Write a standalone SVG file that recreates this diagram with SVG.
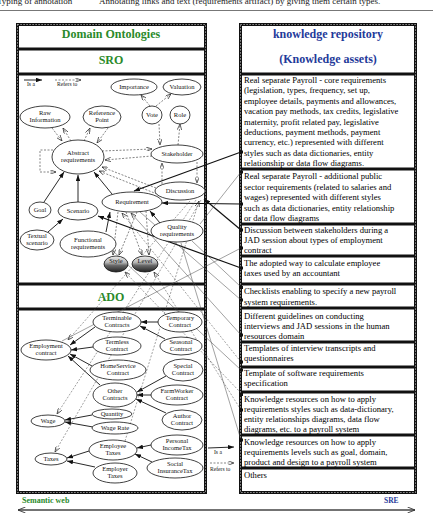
<svg xmlns="http://www.w3.org/2000/svg" width="433" height="515" viewBox="0 0 433 515">
<style>
.bd{fill:none;stroke:#111;stroke-width:3}
.bdt{fill:none;stroke:#fff;stroke-width:0.7;stroke-dasharray:1.2 1.8}
.hg{font-family:"Liberation Serif",serif;font-weight:bold;font-size:12px;fill:#2a8a2a;text-anchor:middle}
.hb{font-family:"Liberation Serif",serif;font-weight:bold;font-size:12px;fill:#1f3a9a;text-anchor:middle}
.rt{font-family:"Liberation Serif",serif;font-size:8.6px;fill:#000}
.nt{font-family:"Liberation Serif",serif;font-size:6.5px;fill:#111;text-anchor:middle}
.lg{font-family:"Liberation Serif",serif;font-size:5.6px;fill:#111}
.n{fill:#fff;stroke:#111;stroke-width:0.8}
.sh{fill:url(#shade);stroke:#111;stroke-width:0.8}
.is{fill:none;stroke:#111;stroke-width:0.9;marker-end:url(#af)}
.isk{fill:none;stroke:#111;stroke-width:1.2;marker-end:url(#af)}
.rf{fill:none;stroke:#333;stroke-width:0.6;stroke-dasharray:2 1.5;marker-end:url(#ao)}
.th{fill:none;stroke:#444;stroke-width:0.5}
.thd{fill:none;stroke:#444;stroke-width:0.5;stroke-dasharray:2 1.5}
.sq{fill:#111}
.top{font-family:"Liberation Serif",serif;font-size:9px;fill:#222}
</style>
<defs>
<linearGradient id="shade" x1="0" y1="0" x2="0" y2="1">
<stop offset="0" stop-color="#ececec"/>
<stop offset="0.4" stop-color="#b8b8b8"/>
<stop offset="0.6" stop-color="#666"/>
<stop offset="1" stop-color="#222"/>
</linearGradient>
<marker id="af" viewBox="0 0 8 6" refX="8" refY="3" markerWidth="6" markerHeight="4.5" markerUnits="userSpaceOnUse" orient="auto">
<path d="M0,0 L8,3 L0,6 z" fill="#111"/>
</marker>
<marker id="ao" viewBox="0 0 8 6" refX="8" refY="3" markerWidth="6" markerHeight="4.5" markerUnits="userSpaceOnUse" orient="auto">
<path d="M0,0 L8,3 L0,6" fill="none" stroke="#222" stroke-width="0.9"/>
</marker>
<marker id="bl" viewBox="0 0 10 8" refX="0" refY="4" markerWidth="8" markerHeight="6" markerUnits="userSpaceOnUse" orient="auto">
<path d="M10,0 L0,4 L10,8" fill="none" stroke="#333" stroke-width="1.2"/>
</marker>
<marker id="br" viewBox="0 0 10 8" refX="10" refY="4" markerWidth="8" markerHeight="6" markerUnits="userSpaceOnUse" orient="auto">
<path d="M0,0 L10,4 L0,8" fill="none" stroke="#333" stroke-width="1.2"/>
</marker>
</defs>
<rect width="433" height="515" fill="#fff"/>

<!-- top caption (cut off) -->
<text class="top" x="-3" y="3.5">Typing of annotation</text>
<text class="top" x="99" y="3.5">Annotating links and text (requirements artifact) by giving them certain types.</text>
<line x1="0" y1="10.5" x2="433" y2="10.5" stroke="#777" stroke-width="1"/>

<!-- panels -->
<g id="left-panel">
<rect class="bd" x="17.5" y="24.5" width="188" height="468"/>
<line class="bd" x1="17.5" y1="49" x2="205.5" y2="49"/>
<line class="bd" x1="17.5" y1="74" x2="205.5" y2="74"/>
<line class="bd" x1="17.5" y1="284" x2="205.5" y2="284"/>
<line class="bd" x1="17.5" y1="309" x2="205.5" y2="309"/>
<rect class="bdt" x="17.5" y="24.5" width="188" height="468"/>
<text class="hg" x="111" y="38">Domain Ontologies</text>
<text class="hg" x="111" y="64">SRO</text>
<text class="hg" x="111" y="301">ADO</text>
</g>
<g id="right-panel">
<rect class="bd" x="240.5" y="24.5" width="175" height="468"/>
<line class="bd" x1="240.5" y1="74" x2="415.5" y2="74"/>
<line class="bd" x1="240.5" y1="169" x2="415.5" y2="169"/>
<line class="bd" x1="240.5" y1="224" x2="415.5" y2="224"/>
<line class="bd" x1="240.5" y1="256" x2="415.5" y2="256"/>
<line class="bd" x1="240.5" y1="284" x2="415.5" y2="284"/>
<line class="bd" x1="240.5" y1="308" x2="415.5" y2="308"/>
<line class="bd" x1="240.5" y1="342" x2="415.5" y2="342"/>
<line class="bd" x1="240.5" y1="367" x2="415.5" y2="367"/>
<line class="bd" x1="240.5" y1="392" x2="415.5" y2="392"/>
<line class="bd" x1="240.5" y1="435" x2="415.5" y2="435"/>
<line class="bd" x1="240.5" y1="468" x2="415.5" y2="468"/>
<rect class="bdt" x="240.5" y="24.5" width="175" height="468"/>
<text class="hb" x="328" y="38">knowledge repository</text>
<text class="hb" x="328" y="63">(Knowledge assets)</text>
</g>

<g id="assets">
<text class="rt" x="244" y="83">Real separate Payroll - core requirements</text>
<text class="rt" x="244" y="93.4">(legislation, types, frequency, set up,</text>
<text class="rt" x="244" y="103.8">employee details, payments and allowances,</text>
<text class="rt" x="244" y="114.2">vacation pay methods, tax credits, legislative</text>
<text class="rt" x="244" y="124.6">maternity, profit related pay, legislative</text>
<text class="rt" x="244" y="135">deductions, payment methods, payment</text>
<text class="rt" x="244" y="145.4">currency, etc.) represented with different</text>
<text class="rt" x="244" y="155.8">styles such as data dictionaries, entity</text>
<text class="rt" x="244" y="166">relationship or data flow diagrams.</text>
<text class="rt" x="244" y="179">Real separate  Payroll - additional public</text>
<text class="rt" x="244" y="189.5">sector requirements (related to salaries and</text>
<text class="rt" x="244" y="200">wages) represented with different styles</text>
<text class="rt" x="244" y="210.5">such as data dictionaries, entity relationship</text>
<text class="rt" x="244" y="221">or data flow diagrams</text>
<text class="rt" x="244" y="233">Discussion between stakeholders during a</text>
<text class="rt" x="244" y="243">JAD session about types of employment</text>
<text class="rt" x="244" y="253">contract</text>
<text class="rt" x="244" y="266">The adopted way to calculate employee</text>
<text class="rt" x="244" y="276">taxes used by an accountant</text>
<text class="rt" x="244" y="294">Checklists enabling to specify a new payroll</text>
<text class="rt" x="244" y="304.5">system requirements.</text>
<text class="rt" x="244" y="319">Different guidelines on conducting</text>
<text class="rt" x="244" y="329">interviews and JAD sessions  in the human</text>
<text class="rt" x="244" y="339">resources domain</text>
<text class="rt" x="244" y="351">Templates of interview transcripts and</text>
<text class="rt" x="244" y="361">questionnaires</text>
<text class="rt" x="244" y="376">Template of software requirements</text>
<text class="rt" x="244" y="386">specification</text>
<text class="rt" x="244" y="402">Knowledge resources on how to apply</text>
<text class="rt" x="244" y="412">requirements styles such as data-dictionary,</text>
<text class="rt" x="244" y="422">entity relationships diagrams, data flow</text>
<text class="rt" x="244" y="432">diagrams, etc. to a payroll system</text>
<text class="rt" x="244" y="445">Knowledge resources on how to apply</text>
<text class="rt" x="244" y="455">requirements levels such as goal, domain,</text>
<text class="rt" x="244" y="465">product and design to a payroll system</text>
<text class="rt" x="244" y="478">Others</text>
</g>

<!-- connectors -->
<g id="connectors">
<line class="is" x1="24" y1="80" x2="42" y2="80"/>
<line class="rf" x1="55" y1="80" x2="81" y2="80"/>
<line class="is" x1="208" y1="448" x2="234" y2="447"/>
<line class="rf" x1="210" y1="463" x2="234" y2="463"/>
<line class="rf" x1="150" y1="106" x2="141" y2="95"/>
<line class="rf" x1="156" y1="106" x2="171" y2="94"/>
<line class="rf" x1="52" y1="128" x2="62" y2="141"/>
<line class="rf" x1="71" y1="141" x2="63" y2="128"/>
<line class="rf" x1="84" y1="141" x2="90" y2="128"/>
<line class="rf" x1="108" y1="128" x2="97" y2="143"/>
<line class="rf" x1="159" y1="124" x2="160" y2="145"/>
<line class="rf" x1="178" y1="145" x2="180" y2="124"/>
<line class="rf" x1="152" y1="156" x2="105" y2="160"/>
<line class="rf" x1="102" y1="151" x2="152" y2="149"/>
<polyline class="rf" points="53,150 40,150 40,172 56,172"/>
<line class="rf" x1="197" y1="162" x2="197" y2="183"/>
<line class="rf" x1="162" y1="184" x2="162" y2="163"/>
<line class="rf" x1="156" y1="188" x2="102" y2="167"/>
<line class="rf" x1="157" y1="194" x2="99" y2="171"/>
<line class="is" x1="112" y1="194" x2="94" y2="172"/>
<line class="is" x1="44" y1="202" x2="64" y2="172"/>
<line class="is" x1="78" y1="202" x2="78" y2="175"/>
<line class="is" x1="48" y1="232" x2="63" y2="219"/>
<line class="is" x1="106" y1="232" x2="110" y2="212"/>
<line class="is" x1="160" y1="223" x2="150" y2="211"/>
<line class="rf" x1="118" y1="212" x2="113" y2="255"/>
<line class="rf" x1="126" y1="212" x2="142" y2="255"/>
<line class="rf" x1="137" y1="212" x2="119" y2="255"/>
<line class="rf" x1="146" y1="211" x2="149" y2="255"/>
<line class="is" x1="95" y1="327" x2="70" y2="345"/>
<line class="is" x1="93" y1="347" x2="71" y2="350"/>
<line class="is" x1="92" y1="366" x2="70" y2="354"/>
<line class="is" x1="100" y1="385" x2="68" y2="356"/>
<line class="is" x1="158" y1="322" x2="141" y2="322"/>
<line class="is" x1="165" y1="339" x2="140" y2="326"/>
<line class="is" x1="166" y1="376" x2="137" y2="392"/>
<line class="is" x1="151" y1="395" x2="137" y2="395"/>
<line class="is" x1="166" y1="413" x2="136" y2="399"/>
<line class="is" x1="92" y1="415" x2="65" y2="420"/>
<line class="is" x1="93" y1="427" x2="65" y2="422"/>
<line class="is" x1="151" y1="445" x2="137" y2="448"/>
<line class="is" x1="152" y1="462" x2="135" y2="454"/>
<line class="is" x1="89" y1="451" x2="67" y2="458"/>
<line class="is" x1="95" y1="467" x2="67" y2="461"/>
<line class="isk" x1="241" y1="152" x2="134" y2="191"/>
<line class="isk" x1="241" y1="204" x2="162" y2="203"/>
<line class="isk" x1="241" y1="230" x2="204" y2="199"/>
<line class="isk" x1="241" y1="268" x2="98" y2="216"/>
<line class="th" x1="241" y1="172" x2="200" y2="224"/>
<line class="thd" x1="241" y1="362" x2="122" y2="213" marker-end="url(#ao)"/>
<line class="th" x1="241" y1="335" x2="131" y2="213" marker-end="url(#ao)"/>
<line class="th" x1="241" y1="300" x2="140" y2="212"/>
<line class="th" x1="241" y1="287" x2="192" y2="241"/>
<line class="th" x1="241" y1="370" x2="113" y2="251"/>
<line class="thd" x1="241" y1="393" x2="125" y2="272" marker-end="url(#ao)"/>
<line class="thd" x1="241" y1="410" x2="154" y2="272" marker-end="url(#ao)"/>
<line class="th" x1="241" y1="440" x2="181" y2="243"/>
<line class="thd" x1="196" y1="200" x2="57" y2="414" marker-end="url(#ao)"/>
<line class="thd" x1="201" y1="200" x2="55" y2="452" marker-end="url(#ao)"/>
<line class="thd" x1="190" y1="201" x2="68" y2="340" marker-end="url(#ao)"/>
<line class="th" x1="241" y1="248" x2="62" y2="341"/>
<line class="thd" x1="125" y1="441" x2="199" y2="201" marker-end="url(#ao)"/>
<rect class="sq" x="240" y="150.5" width="3" height="3"/>
<rect class="sq" x="240" y="170.5" width="3" height="3"/>
<rect class="sq" x="240" y="202.5" width="3" height="3"/>
<rect class="sq" x="240" y="228.5" width="3" height="3"/>
<rect class="sq" x="240" y="246.5" width="3" height="3"/>
<rect class="sq" x="240" y="266.5" width="3" height="3"/>
<rect class="sq" x="240" y="286" width="3" height="3"/>
<rect class="sq" x="240" y="298.5" width="3" height="3"/>
<rect class="sq" x="240" y="333.5" width="3" height="3"/>
<rect class="sq" x="240" y="360.5" width="3" height="3"/>
<rect class="sq" x="240" y="368.5" width="3" height="3"/>
<rect class="sq" x="240" y="393" width="3" height="3"/>
<rect class="sq" x="240" y="408.5" width="3" height="3"/>
<rect class="sq" x="240" y="438.5" width="3" height="3"/>
</g>
<text class="lg" x="27" y="86">Is a</text>
<text class="lg" x="57" y="86">Refers to</text>
<text class="lg" x="214" y="454">Is a</text>
<text class="lg" x="210" y="471">Refers to</text>

<g id="importance"><ellipse class="n" cx="134" cy="87" rx="23" ry="8"/><text class="nt" x="134" y="89">Importance</text></g>
<g id="valuation"><ellipse class="n" cx="182" cy="87" rx="19" ry="8"/><text class="nt" x="182" y="89">Valuation</text></g>
<g id="raw-information"><ellipse class="n" cx="45" cy="117" rx="25" ry="11"/><text class="nt" x="45" y="115">Raw</text><text class="nt" x="45" y="122">Information</text></g>
<g id="reference-point"><ellipse class="n" cx="102" cy="117" rx="19" ry="11"/><text class="nt" x="102" y="115">Reference</text><text class="nt" x="102" y="122">Point</text></g>
<g id="vote"><ellipse class="n" cx="152" cy="115" rx="10" ry="9"/><text class="nt" x="152" y="117">Vote</text></g>
<g id="role"><ellipse class="n" cx="180" cy="115" rx="10" ry="9"/><text class="nt" x="180" y="117">Role</text></g>
<g id="abstract-requirements"><ellipse class="n" cx="78" cy="157" rx="26" ry="17"/><text class="nt" x="78" y="155">Abstract</text><text class="nt" x="78" y="162">requirements</text></g>
<g id="stakeholder"><ellipse class="n" cx="177" cy="154" rx="26" ry="9"/><text class="nt" x="177" y="156">Stakeholder</text></g>
<g id="discussion"><ellipse class="n" cx="180" cy="191" rx="25" ry="9"/><text class="nt" x="180" y="193">Discussion</text></g>
<g id="requirement"><ellipse class="n" cx="132" cy="202" rx="30" ry="10"/><text class="nt" x="132" y="204">Requirement</text></g>
<g id="goal"><ellipse class="n" cx="40" cy="210" rx="11" ry="8"/><text class="nt" x="40" y="212">Goal</text></g>
<g id="scenario"><ellipse class="n" cx="78" cy="211" rx="20" ry="9"/><text class="nt" x="78" y="213">Scenario</text></g>
<g id="quality-requirements"><ellipse class="n" cx="177" cy="231" rx="26" ry="11"/><text class="nt" x="177" y="229">Quality</text><text class="nt" x="177" y="236">requirements</text></g>
<g id="textual-scenario"><ellipse class="n" cx="37" cy="240" rx="17" ry="10"/><text class="nt" x="37" y="238">Textual</text><text class="nt" x="37" y="245">scenario</text></g>
<g id="functional-requirements"><ellipse class="n" cx="88" cy="244" rx="28" ry="13"/><text class="nt" x="88" y="242">Functional</text><text class="nt" x="88" y="249">requirements</text></g>
<g id="style"><ellipse class="sh" cx="116" cy="264" rx="12" ry="8"/><text class="nt" x="116" y="263">Style</text></g>
<g id="level"><ellipse class="sh" cx="145" cy="264" rx="13" ry="8"/><text class="nt" x="145" y="263">Level</text></g>

<g id="terminable-contracts"><ellipse class="n" cx="117" cy="322" rx="24" ry="10"/><text class="nt" x="117" y="320">Terminable</text><text class="nt" x="117" y="327">Contracts</text></g>
<g id="temporary-contract"><ellipse class="n" cx="180" cy="322" rx="22" ry="10"/><text class="nt" x="180" y="320">Temporary</text><text class="nt" x="180" y="327">Contract</text></g>
<g id="employment-contract"><ellipse class="n" cx="46" cy="350" rx="25" ry="10"/><text class="nt" x="46" y="348">Employment</text><text class="nt" x="46" y="355">contract</text></g>
<g id="termless-contract"><ellipse class="n" cx="117" cy="346" rx="24" ry="9"/><text class="nt" x="117" y="344">Termless</text><text class="nt" x="117" y="351">Contract</text></g>
<g id="seasonal-contract"><ellipse class="n" cx="181" cy="346" rx="21" ry="9"/><text class="nt" x="181" y="344">Seasonal</text><text class="nt" x="181" y="351">Contract</text></g>
<g id="homeservice-contract"><ellipse class="n" cx="118" cy="370" rx="28" ry="10"/><text class="nt" x="118" y="368">HomeService</text><text class="nt" x="118" y="375">Contract</text></g>
<g id="special-contract"><ellipse class="n" cx="183" cy="370" rx="20" ry="11"/><text class="nt" x="183" y="368">Special</text><text class="nt" x="183" y="375">Contract</text></g>
<g id="other-contracts"><ellipse class="n" cx="115" cy="395" rx="22" ry="12"/><text class="nt" x="115" y="393">Other</text><text class="nt" x="115" y="400">Contracts</text></g>
<g id="farmworker-contract"><ellipse class="n" cx="177" cy="395" rx="26" ry="10"/><text class="nt" x="177" y="393">FarmWorker</text><text class="nt" x="177" y="400">Contract</text></g>
<g id="author-contract"><ellipse class="n" cx="182" cy="420" rx="20" ry="10"/><text class="nt" x="182" y="418">Author</text><text class="nt" x="182" y="425">Contract</text></g>
<g id="quantity"><ellipse class="n" cx="112" cy="414" rx="20" ry="5"/><text class="nt" x="112" y="416">Quantity</text></g>
<g id="wage-rate"><ellipse class="n" cx="115" cy="428" rx="23" ry="6"/><text class="nt" x="115" y="430">Wage Rate</text></g>
<g id="wage"><ellipse class="n" cx="48" cy="421" rx="17" ry="6"/><text class="nt" x="48" y="423">Wage</text></g>
<g id="personal-incometax"><ellipse class="n" cx="177" cy="445" rx="26" ry="10"/><text class="nt" x="177" y="443">Personal</text><text class="nt" x="177" y="450">IncomeTax</text></g>
<g id="employee-taxes"><ellipse class="n" cx="113" cy="450" rx="24" ry="10"/><text class="nt" x="113" y="448">Employee</text><text class="nt" x="113" y="455">Taxes</text></g>
<g id="social-insurancetax"><ellipse class="n" cx="175" cy="468" rx="28" ry="10"/><text class="nt" x="175" y="466">Social</text><text class="nt" x="175" y="473">InsuranceTax</text></g>
<g id="employer-taxes"><ellipse class="n" cx="115" cy="473" rx="22" ry="10"/><text class="nt" x="115" y="471">Employer</text><text class="nt" x="115" y="478">Taxes</text></g>
<g id="taxes"><ellipse class="n" cx="51" cy="459" rx="16" ry="6"/><text class="nt" x="51" y="461">Taxes</text></g>

<text x="22" y="503" font-family="Liberation Serif, serif" font-weight="bold" font-size="8" fill="#2a8a2a">Semantic web</text>
<text x="384" y="503" font-family="Liberation Serif, serif" font-weight="bold" font-size="7.5" fill="#1f3a9a">SRE</text>
<line x1="18" y1="510" x2="415" y2="510" stroke="#444" stroke-width="1.3" marker-start="url(#bl)" marker-end="url(#br)"/>
</svg>
